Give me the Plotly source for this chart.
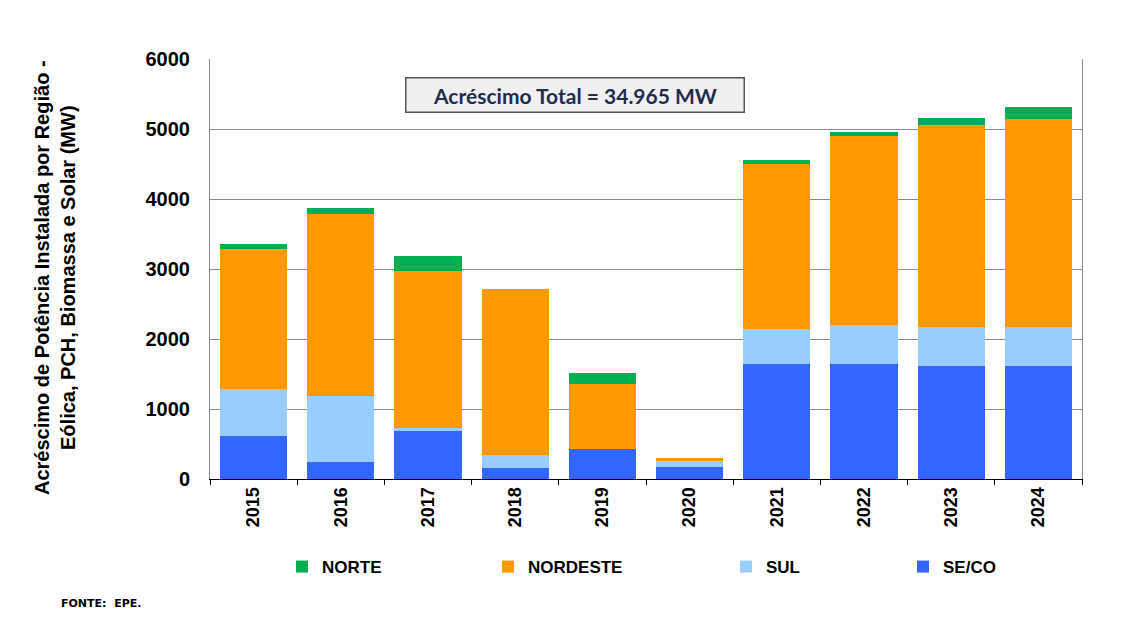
import plotly.graph_objects as go

anos = ["2015", "2016", "2017", "2018", "2019", "2020", "2021", "2022", "2023", "2024"]
se_co = [614, 238, 691, 162, 429, 167, 1648, 1648, 1615, 1615]
sul = [672, 948, 43, 181, 0, 85, 500, 548, 552, 552]
nordeste = [1996, 2600, 2238, 2372, 928, 53, 2353, 2705, 2896, 2977]
norte = [75, 85, 209, 0, 162, 0, 57, 57, 95, 171]

series = [
    ("SE/CO", se_co, "#3366ff"),
    ("SUL", sul, "#99ccff"),
    ("NORDESTE", nordeste, "#ff9900"),
    ("NORTE", norte, "#00b050"),
]
legend_text_x = {"NORTE": 322, "NORDESTE": 528, "SUL": 766, "SE/CO": 943}
legend_ids = {"NORTE": "legend", "NORDESTE": "legend2", "SUL": "legend3", "SE/CO": "legend4"}

# page has an 8px body margin: figure is drawn 8px right/down of the window corner
OFF = 8
W, H = 1135 - OFF, 623 - OFF
fig = go.Figure()
for name, vals, col in series:
    fig.add_trace(go.Bar(x=anos, y=vals, name=name, legend=legend_ids[name],
                         marker=dict(color=col, line=dict(width=0))))


def px_x(sx):
    return (sx - 210) / 872


def px_y(sy):
    return (479 - sy) / 420


leg_layout = {}
for name, lid in legend_ids.items():
    leg_layout[lid] = dict(
        xref="container", yref="container",
        x=(legend_text_x[name] - 40 - OFF) / W, y=1 - (567 - OFF) / H,
        xanchor="left", yanchor="middle", itemwidth=30,
        font=dict(family="Liberation Sans, Arial", size=17, color="black", weight="bold"),
        bgcolor="rgba(0,0,0,0)",
    )

fig.update_layout(
    width=W, height=H,
    barmode="stack", bargap=0.23,
    plot_bgcolor="white", paper_bgcolor="white",
    margin=dict(l=210 - OFF, r=53, t=59 - OFF, b=144, autoexpand=False),
    showlegend=True,
    **leg_layout,
    xaxis=dict(
        type="category", showline=True, linecolor="black", linewidth=1,
        ticks="outside", tickson="boundaries", ticklen=5, tickcolor="black",
        tickangle=-90, tickfont=dict(family="Liberation Sans, Arial", size=18, color="black", weight="bold"),
        showgrid=False,
    ),
    yaxis=dict(
        range=[0, 6000], tickvals=[0, 1000, 2000, 3000, 4000, 5000, 6000],
        showline=True, linecolor="#8c8c8c", linewidth=1, mirror=True,
        showgrid=True, gridcolor="#8c8c8c", gridwidth=1, zeroline=False,
        ticks="", ticklabelstandoff=15,
        tickfont=dict(family="Liberation Sans, Arial", size=20, color="black", weight="bold"),
    ),
    font=dict(family="Liberation Sans, Arial"),
)

fig.add_annotation(
    xref="paper", yref="paper", x=px_x(55), y=px_y(278), xanchor="center", yanchor="middle",
    text="Acréscimo de Potência Instalada por Região -<br>Eólica, PCH, Biomassa e Solar (MW)",
    textangle=-90, showarrow=False, align="center",
    font=dict(family="Liberation Sans, Arial", size=20, color="black", weight="bold"),
)

fig.add_annotation(
    xref="paper", yref="paper", x=px_x(574.5), y=px_y(94.5), xanchor="center", yanchor="middle",
    text="Acréscimo Total = 34.965 MW", showarrow=False,
    font=dict(family="Lato, Open Sans", size=21, color="#1f2d4d", weight="bold"),
    bgcolor="#f0f0f0", bordercolor="#555555", borderwidth=1.5, borderpad=1,
    width=335, height=31,
)

fig.add_annotation(
    xref="paper", yref="paper", x=px_x(59), y=px_y(603), xanchor="left", yanchor="middle",
    text="FONTE:  EPE.", showarrow=False,
    font=dict(family="DejaVu Sans", size=11, color="black", weight="bold"),
)

fig.write_html("out.html")
